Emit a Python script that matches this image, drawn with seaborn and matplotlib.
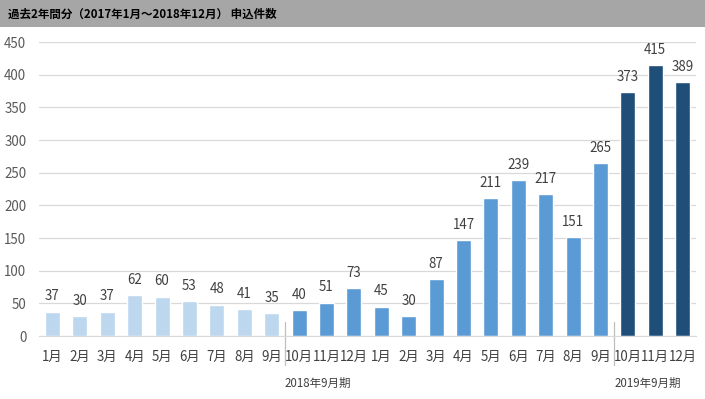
import pandas as pd
import matplotlib.pyplot as plt
import seaborn as sns

months = ['1月', '2月', '3月', '4月', '5月', '6月', '7月', '8月', '9月',
          '10月', '11月', '12月', '1月', '2月', '3月', '4月', '5月', '6月',
          '7月', '8月', '9月', '10月', '11月', '12月']
counts = [37, 30, 37, 62, 60, 53, 48, 41, 35, 40, 51, 73, 45, 30, 87, 147,
          211, 239, 217, 151, 265, 373, 415, 389]
groups = ['a'] * 9 + ['b'] * 12 + ['c'] * 3
period_labels = ['2018年9月期', '2019年9月期']
title = '過去2年間分（2017年1月～2018年12月） 申込件数'
palette = {'a': '#bdd7ee', 'b': '#5b9bd5', 'c': '#1f4e79'}

sns.set_style('white')
plt.rcParams['font.family'] = ['Noto Sans CJK JP', 'DejaVu Sans']

df = pd.DataFrame({'pos': range(len(counts)), 'count': counts, 'group': groups})

fig = plt.figure(figsize=(7.05, 3.99), dpi=100)
# grey title band
fig.patches.append(plt.Rectangle((0, 1 - 27 / 399), 1, 27 / 399, transform=fig.transFigure,
                                 facecolor='#a6a6a6', edgecolor='none', zorder=0))
fig.text(8 / 705, 1 - 14 / 399, title, fontsize=8.3, fontweight='bold', color='black',
         va='center', ha='left')

ax = fig.add_axes([38.8 / 705, 63 / 399, 657.6 / 705, 294 / 399])
sns.barplot(data=df, x='pos', y='count', hue='group', palette=palette, dodge=False,
            width=0.55, legend=False, ax=ax, saturation=1)
for c in ax.containers:
    ax.bar_label(c, fontsize=9.6, color='#404040', padding=6)

ax.set_xlim(-0.5, len(counts) - 0.5)
ax.set_ylim(0, 450)
ax.set_yticks(range(0, 451, 50))
ax.yaxis.grid(True, color='#d9d9d9', linewidth=0.9)
ax.set_axisbelow(True)
ax.set_xticks(range(len(counts)))
ax.set_xticklabels(months, fontsize=9.6, color='#404040')
ax.tick_params(axis='y', labelsize=9.6, labelcolor='#595959', length=0, pad=9)
ax.tick_params(axis='x', length=0, pad=10)
ax.set_xlabel('')
ax.set_ylabel('')
for s in ['top', 'right', 'left']:
    ax.spines[s].set_visible(False)
ax.spines['bottom'].set_color('#d9d9d9')

trans = ax.get_xaxis_transform()
for xs in [8.5, 20.5]:
    ax.plot([xs, xs], [0.048, -0.099], transform=trans, color='#bfbfbf',
            linewidth=0.9, clip_on=False)
for xl, lab in zip([9.69, 21.73], period_labels):
    ax.text(xl, -0.16, lab, transform=trans, fontsize=8.3, color='#404040',
            ha='center', va='center')

fig.savefig('out.png', dpi=100)
